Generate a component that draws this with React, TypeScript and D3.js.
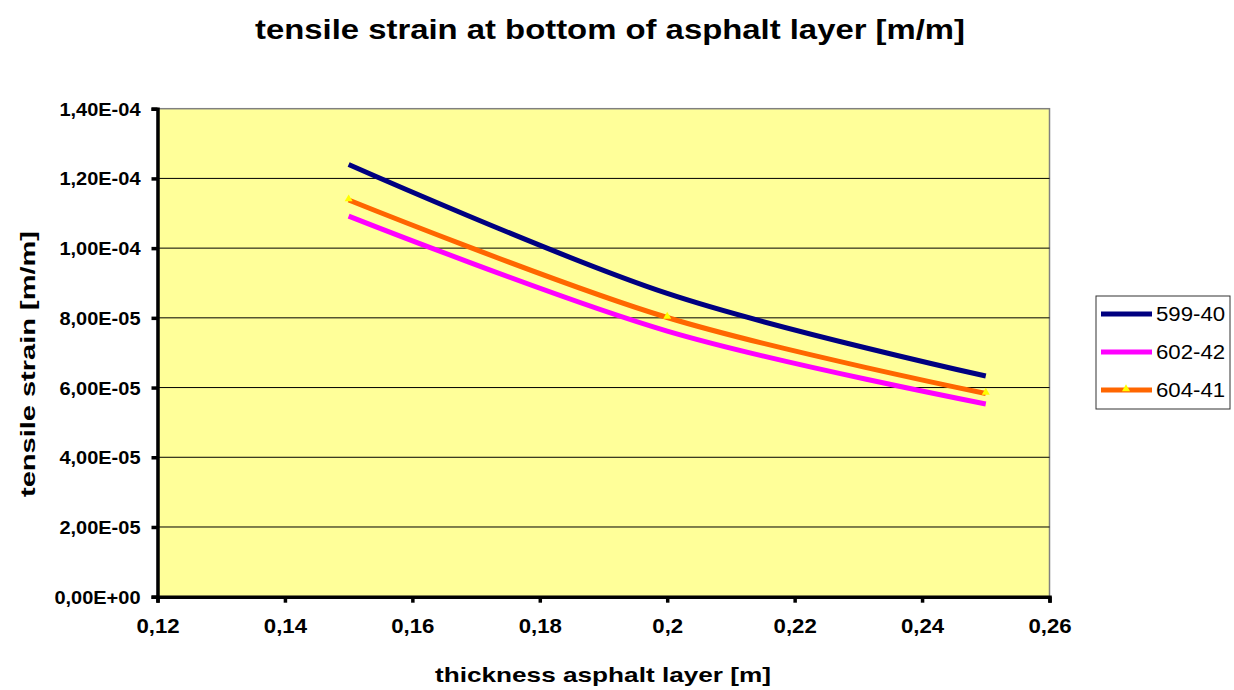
import { useEffect, useRef } from "react";
import * as d3 from "d3";

const thickness = [0.15, 0.2, 0.25];
const series599 = [1.24e-4, 8.7e-5, 6.33e-5];
const series602 = [1.092e-4, 7.62e-5, 5.53e-5];
const series604 = [1.138e-4, 8.01e-5, 5.83e-5];
const seriesNames = ["599-40", "602-42", "604-41"];
const seriesColors = ["#000080", "#FF00FF", "#FF6600"];
const xTicks = [0.12, 0.14, 0.16, 0.18, 0.2, 0.22, 0.24, 0.26];
const yTicks = [0, 2e-5, 4e-5, 6e-5, 8e-5, 1e-4, 1.2e-4, 1.4e-4];

const W = 1234;
const H = 690;
const M = { left: 157.5, right: 1049.5, top: 108.7, bottom: 596.7 };
const FONT = "'Liberation Sans', Arial, sans-serif";
const STRETCH = 1.11; // excel renders text a bit wider than Liberation Sans

// excel style numbers: comma decimal, 2-digit exponent
const fmtY = (v: number) => {
  const [m, e] = v.toExponential(2).split("e");
  const exp = parseInt(e, 10);
  const sign = exp < 0 ? "-" : "+";
  return `${m.replace(".", ",")}E${sign}${String(Math.abs(exp)).padStart(2, "0")}`;
};
const fmtX = (v: number) => String(+v.toFixed(2)).replace(".", ",");

function widen(sel: d3.Selection<any, any, any, any>) {
  sel.each(function () {
    const el = this as SVGTextElement;
    const w = el.getComputedTextLength();
    if (w > 0) {
      el.setAttribute("textLength", String(w * STRETCH));
      el.setAttribute("lengthAdjust", "spacingAndGlyphs");
    }
  });
}

export default function App() {
  const svgRef = useRef<SVGSVGElement>(null);

  useEffect(() => {
    document.body.style.margin = "0";
    if (!svgRef.current) return;
    const svg = d3.select(svgRef.current);
    svg.selectAll("*").remove();

    const x = d3.scaleLinear().domain([0.12, 0.26]).range([M.left, M.right]);
    const y = d3.scaleLinear().domain([0, 1.4e-4]).range([M.bottom, M.top]);

    svg.append("rect").attr("width", W).attr("height", H).attr("fill", "#fff");

    // plot area
    svg.append("rect")
      .attr("x", M.left).attr("y", M.top)
      .attr("width", M.right - M.left).attr("height", M.bottom - M.top)
      .attr("fill", "#FFFF99")
      .attr("stroke", "#808080").attr("stroke-width", 1.5);

    // gridlines
    svg.append("g")
      .selectAll("line")
      .data(yTicks.slice(1, -1))
      .join("line")
      .attr("x1", M.left).attr("x2", M.right)
      .attr("y1", (d) => y(d)).attr("y2", (d) => y(d))
      .attr("stroke", "#000").attr("stroke-width", 1);

    // axes
    const yAxis = svg.append("g")
      .attr("transform", `translate(${M.left},0)`)
      .call(d3.axisLeft(y).tickValues(yTicks).tickFormat((d) => fmtY(+d)).tickSize(6).tickPadding(11));
    const xAxis = svg.append("g")
      .attr("transform", `translate(0,${M.bottom})`)
      .call(d3.axisBottom(x).tickValues(xTicks).tickFormat((d) => fmtX(+d)).tickSize(6).tickPadding(16));

    for (const ax of [yAxis, xAxis]) {
      ax.attr("font-family", FONT).attr("font-weight", 700);
      ax.select(".domain").attr("stroke", "#000").attr("stroke-width", 3.5);
      ax.selectAll(".tick line").attr("stroke", "#000").attr("stroke-width", 3.5);
      ax.selectAll(".tick text").attr("fill", "#000");
    }
    yAxis.attr("font-size", 18);
    xAxis.attr("font-size", 20);
    yAxis.selectAll(".tick text").attr("dy", "0.36em");
    widen(yAxis.selectAll(".tick text"));
    widen(xAxis.selectAll(".tick text"));

    // series
    const all = [series599, series602, series604];
    const line = d3.line<number>()
      .x((_, i) => x(thickness[i]))
      .y((d) => y(d))
      .curve(d3.curveCardinal.tension(0));

    all.forEach((vals, k) => {
      svg.append("path")
        .datum(vals)
        .attr("d", line)
        .attr("fill", "none")
        .attr("stroke", seriesColors[k])
        .attr("stroke-width", 5);
    });

    const tri = d3.symbol().type(d3.symbolTriangle).size(28);
    svg.append("g")
      .selectAll("path")
      .data(series604)
      .join("path")
      .attr("d", tri)
      .attr("transform", (d, i) => `translate(${x(thickness[i])},${y(d) - 1})`)
      .attr("fill", "#FFFF00");

    // title
    svg.append("text")
      .attr("x", 610).attr("y", 39)
      .attr("text-anchor", "middle")
      .attr("textLength", 710).attr("lengthAdjust", "spacingAndGlyphs")
      .style("font-family", FONT).style("font-size", "28px").style("font-weight", "700")
      .text("tensile strain at bottom of asphalt layer [m/m]");

    svg.append("text")
      .attr("x", 603).attr("y", 682)
      .attr("text-anchor", "middle")
      .attr("textLength", 336).attr("lengthAdjust", "spacingAndGlyphs")
      .style("font-family", FONT).style("font-size", "21px").style("font-weight", "700")
      .text("thickness asphalt layer [m]");

    svg.append("text")
      .attr("transform", `translate(35,364) rotate(-90)`)
      .attr("text-anchor", "middle")
      .attr("textLength", 266).attr("lengthAdjust", "spacingAndGlyphs")
      .style("font-family", FONT).style("font-size", "21px").style("font-weight", "700")
      .text("tensile strain [m/m]");

    // legend
    const lg = svg.append("g");
    lg.append("rect")
      .attr("x", 1096).attr("y", 296).attr("width", 134).attr("height", 113)
      .attr("fill", "#fff").attr("stroke", "#333").attr("stroke-width", 1);
    seriesNames.forEach((name, k) => {
      const cy = 314 + k * 38;
      lg.append("line")
        .attr("x1", 1101).attr("x2", 1152).attr("y1", cy).attr("y2", cy)
        .attr("stroke", seriesColors[k]).attr("stroke-width", 5);
      if (k === 2) {
        lg.append("path").attr("d", tri).attr("transform", `translate(1126,${cy - 1})`).attr("fill", "#FFFF00");
      }
      lg.append("text")
        .attr("class", "legend-label")
        .attr("x", 1156).attr("y", cy + 7)
        .style("font-family", FONT).style("font-size", "20px")
        .text(name);
    });
    widen(lg.selectAll(".legend-label"));
  }, []);

  return <svg ref={svgRef} width={W} height={H} style={{ display: "block" }} />;
}
